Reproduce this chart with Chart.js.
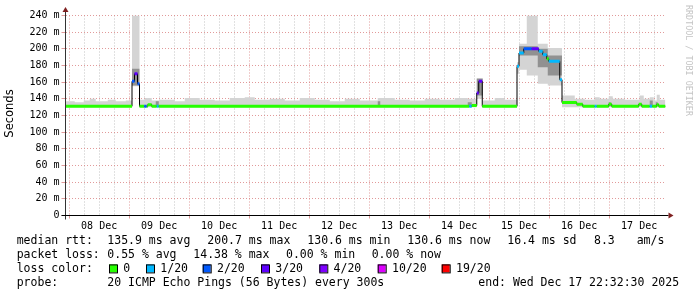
<!DOCTYPE html>
<html lang="en">
<head>
<meta charset="UTF-8" />
<title>SmokePing</title>
<script src="https://cdn.jsdelivr.net/npm/chart.js"></script>
<style>
  body { margin: 0; background: #fff; }
  canvas { display: block; }
</style>
</head>
<body>
<canvas id="myChart" width="697" height="297"></canvas>
<script>
// x is hours since graph start (Dec 07 22:32:30), end = Dec 17 22:32:30
const firstMidnight = 1.46; // Dec 08 00:00
const dayLabels = ["08 Dec", "09 Dec", "10 Dec", "11 Dec", "12 Dec", "13 Dec", "14 Dec", "15 Dec", "16 Dec", "17 Dec"];

// median rtt (ms), step values start at medTimes[i]
const medTimes  = [0, 26.6, 27.6, 28.8, 29.6, 31.5, 32.5, 32.9, 34.5, 36.5, 37.3, 161.5, 162.5, 164.5, 165.3, 166.7, 180.6, 181.4, 183.3, 186.5, 189.3, 190.9, 192.5, 193.3, 197.7, 198.6, 204.5, 206.9, 211.7, 212.5, 217.3, 218.5, 229.3, 230.5, 233.7, 234.7, 236.5, 237.3, 240];
const medValues = [131, 161, 170, 158, 131, 131, 131, 133, 131, 131, 131, 131, 132, 147, 161, 131, 179, 195, 200, 200, 197, 193, 188, 185, 163, 135.5, 133.5, 131, 131, 131, 133.5, 131, 133.5, 131, 131, 131, 133, 131, 131];
// loss class per step (index into lossColors)
const medLoss   = [0, 2, 3, 2, 0, 2, 0, 0, 0, 1, 0, 1, 0, 3, 3, 0, 1, 1, 2, 3, 1, 1, 0, 1, 1, 0, 0, 0, 1, 0, 0, 0, 0, 0, 1, 0, 0, 0];

// light smoke band
const smokeTimes = [0, 3.7, 7.3, 9.7, 12.1, 16.9, 20.1, 24.1, 26.6, 29.6, 31.7, 34.5, 37.7, 43.7, 47.7, 53.7, 59.7, 65.7, 71.7, 75.7, 81.7, 87.7, 93.7, 99.7, 105.7, 111.7, 117.7, 124.9, 131.7, 137.7, 143.7, 149.7, 155.7, 160.9, 164.5, 166.9, 171.7, 175.7, 180.6, 181.4, 184.5, 188.9, 192.9, 198.6, 203.7, 207.7, 211.7, 213.7, 217.3, 218.9, 223.7, 229.7, 231.3, 233.7, 235.3, 236.5, 237.7, 240];
const smokeHi    = [137, 136, 138, 140, 137, 139, 137, 138, 245, 139, 141, 138, 139, 137, 141, 139, 138, 141, 142, 139, 140, 138, 141, 139, 137, 140, 138, 141, 139, 138, 140, 139, 141, 140, 165, 138, 141, 139, 184, 206, 245, 206, 201, 144, 140, 139, 142, 140, 143, 140, 139, 144, 140, 142, 138, 145, 139, 139];
const smokeLo    = [130, 130, 130, 130, 130, 130, 130, 130, 155, 130, 130, 130, 130, 130, 130, 130, 130, 130, 130, 130, 130, 130, 130, 130, 130, 130, 130, 130, 130, 130, 130, 130, 130, 130, 140, 130, 130, 130, 170, 175, 168, 158, 156, 130, 130, 130, 130, 130, 130, 130, 130, 130, 130, 130, 130, 130, 130, 130];

// darker smoke near the median
const darkTimes = [0, 26.6, 29.6, 36.1, 37.3, 124.9, 125.9, 160.9, 162.5, 164.5, 166.9, 181.4, 188.9, 192.9, 198.6, 217.3, 218.1, 233.7, 234.9, 236.1, 236.9, 240];
const darkHi    = [131, 176, 131, 137, 131, 137, 131, 136, 131, 164, 131, 203, 200, 192, 131, 136, 131, 138, 131, 136, 131, 131];
const darkLo    = [131, 156, 131, 131, 131, 131, 131, 131, 131, 144, 131, 192, 178, 168, 131, 131, 131, 131, 131, 131, 131, 131];

const lossLabels = ["0", "1/20", "2/20", "3/20", "4/20", "10/20", "19/20"];
const lossColors = ["#26ff00", "#00b8ff", "#0059ff", "#5e00ff", "#7e00ff", "#dd00ff", "#ff0000"];

const rttStats  = ["135.9 ms avg", "200.7 ms max", "130.6 ms min", "130.6 ms now", "16.4 ms sd", "8.3", "am/s"];
const lossStats = ["0.55 % avg", "14.38 % max", "0.00 % min", "0.00 % now"];
const probeText = "20 ICMP Echo Pings (56 Bytes) every 300s";
const endText   = "end: Wed Dec 17 22:32:30 2025";

const RED = "rgba(215,120,120,0.75)";
const GREY = "rgba(170,170,170,0.7)";
const MONO = "'DejaVu Sans Mono', monospace";

const toPts = (xs, ys) => xs.map((x, i) => ({ x: x, y: ys[i] }));

// horizontal pieces of the median, coloured by loss
const medSegs = [];
for (let i = 0; i < medTimes.length - 1; i++) {
  medSegs.push({ x: medTimes[i], y: medValues[i] });
  medSegs.push({ x: medTimes[i + 1], y: medValues[i] });
  medSegs.push({ x: medTimes[i + 1], y: null });
}

const extras = {
  id: "extras",
  beforeDraw(chart) {
    const c = chart.ctx;
    c.save();
    c.fillStyle = "#fff";
    c.fillRect(0, 0, chart.width, chart.height);
    c.restore();
  },
  afterDraw(chart) {
    const c = chart.ctx;
    const a = chart.chartArea;
    c.save();
    // axes
    c.strokeStyle = "#333";
    c.lineWidth = 1;
    c.beginPath();
    c.moveTo(a.left, a.bottom + 4);
    c.lineTo(a.left, 11);
    c.stroke();
    c.strokeStyle = "#000";
    c.beginPath();
    c.moveTo(a.left - 4, a.bottom);
    c.lineTo(a.right + 3, a.bottom);
    c.stroke();
    c.fillStyle = "#7f2020";
    c.beginPath();
    c.moveTo(a.left - 3, 12);
    c.lineTo(a.left + 3, 12);
    c.lineTo(a.left, 7);
    c.closePath();
    c.fill();
    c.beginPath();
    c.moveTo(a.right + 3, a.bottom - 3);
    c.lineTo(a.right + 3, a.bottom + 3);
    c.lineTo(a.right + 8, a.bottom);
    c.closePath();
    c.fill();

    // y title
    c.fillStyle = "#000";
    c.font = "11.5px 'DejaVu Sans', sans-serif";
    c.textAlign = "center";
    c.textBaseline = "middle";
    c.translate(10.5, 113.5);
    c.rotate(-Math.PI / 2);
    c.fillText("Seconds", 0, 0);
    c.setTransform(1, 0, 0, 1, 0, 0);

    // watermark
    c.fillStyle = "#c4c4c4";
    c.font = "8.4px " + MONO;
    c.textAlign = "left";
    c.translate(688, 5);
    c.rotate(Math.PI / 2);
    c.fillText("RRDTOOL / TOBI OETIKER", 0, 0);
    c.setTransform(1, 0, 0, 1, 0, 0);

    // legend
    c.fillStyle = "#000";
    c.font = "11.5px " + MONO;
    c.textAlign = "left";
    c.textBaseline = "middle";
    const rows = [241.3, 255.1, 268.9, 282.7];
    c.fillText("median rtt:", 16.7, rows[0]);
    const rttX = [107.3, 207.3, 307.3, 407.3, 507.3, 594, 636.7];
    rttStats.forEach((s, i) => c.fillText(s, rttX[i], rows[0]));
    c.fillText("packet loss:", 16.7, rows[1]);
    const lossX = [107.3, 193.3, 286, 371.7];
    lossStats.forEach((s, i) => c.fillText(s, lossX[i], rows[1]));
    c.fillText("loss color:", 16.7, rows[2]);
    const sqX = [109, 146, 202.7, 261, 319.3, 377.7, 441.7];
    lossLabels.forEach((s, i) => {
      c.fillStyle = lossColors[i];
      c.fillRect(sqX[i], rows[2] - 4.5, 8, 8);
      c.strokeStyle = "#000";
      c.strokeRect(sqX[i] + 0.5, rows[2] - 4, 8, 8);
      c.fillStyle = "#000";
      c.fillText(s, sqX[i] + 14.3, rows[2]);
    });
    c.fillText("probe:", 16.7, rows[3]);
    c.fillText(probeText, 107.3, rows[3]);
    c.fillText(endText, 478.3, rows[3]);
    c.restore();
  },
};

const stepIdx = (v) => Math.round((v - firstMidnight) / 6);

new Chart(document.getElementById("myChart"), {
  type: "line",
  data: {
    datasets: [
      {
        data: toPts(smokeTimes, smokeHi),
        stepped: true,
        borderWidth: 0,
        pointRadius: 0,
        backgroundColor: "#d4d4d4",
        fill: "+1",
        order: 5,
      },
      {
        data: toPts(smokeTimes, smokeLo),
        stepped: true,
        borderWidth: 0,
        pointRadius: 0,
        fill: false,
        order: 5,
      },
      {
        data: toPts(darkTimes, darkHi),
        stepped: true,
        borderWidth: 0,
        pointRadius: 0,
        backgroundColor: "rgba(90,90,90,0.55)",
        fill: "+1",
        order: 3,
      },
      {
        data: toPts(darkTimes, darkLo),
        stepped: true,
        borderWidth: 0,
        pointRadius: 0,
        fill: false,
        order: 3,
      },
      {
        data: toPts(medTimes, medValues),
        stepped: true,
        borderColor: "#000",
        borderWidth: 1,
        pointRadius: 0,
        fill: false,
        order: 1,
      },
      {
        data: medSegs,
        borderWidth: 3,
        borderCapStyle: "butt",
        pointRadius: 0,
        spanGaps: false,
        fill: false,
        order: 0,
        segment: {
          borderColor: (s) => lossColors[medLoss[Math.floor(s.p0DataIndex / 3)]],
        },
      },
    ],
  },
  options: {
    responsive: false,
    animation: false,
    events: [],
    layout: { padding: { left: 0, top: 15.5, right: 31.5, bottom: 0 } },
    plugins: { legend: { display: false }, tooltip: { enabled: false } },
    scales: {
      x: {
        type: "linear",
        min: 0,
        max: 240,
        afterFit: (scale) => { scale.height = 297 - 215.5; },
        afterBuildTicks: (scale) => {
          const t = [];
          for (let k = 0; k < 40; k++) t.push({ value: firstMidnight + 6 * k });
          scale.ticks = t;
        },
        border: { display: false, dash: [1, 2] },
        grid: {
          color: (c) => (stepIdx(c.tick.value) % 4 === 0 ? RED : GREY),
          tickColor: (c) => (stepIdx(c.tick.value) % 4 === 0 ? RED : "rgba(0,0,0,0)"),
          tickLength: 3,
        },
        ticks: {
          autoSkip: false,
          maxRotation: 0,
          padding: 2,
          color: "#000",
          font: { family: MONO, size: 10 },
          callback: (v) => {
            const k = stepIdx(v);
            return k % 4 === 2 ? dayLabels[(k - 2) / 4] : "";
          },
        },
      },
      y: {
        min: 0,
        max: 240,
        afterFit: (scale) => { scale.width = 65.5; },
        border: { display: false, dash: [1, 2] },
        grid: {
          color: (c) => (c.tick.value % 20 === 0 ? RED : GREY),
          tickColor: (c) => (c.tick.value % 20 === 0 ? RED : "rgba(0,0,0,0)"),
          tickLength: 4,
        },
        ticks: {
          stepSize: 10,
          padding: 2,
          color: "#000",
          font: { family: MONO, size: 10 },
          callback: (v) => (v % 20 === 0 ? (v === 0 ? "0" : v + " m") : ""),
        },
      },
    },
  },
  plugins: [extras],
});
</script>
</body>
</html>
